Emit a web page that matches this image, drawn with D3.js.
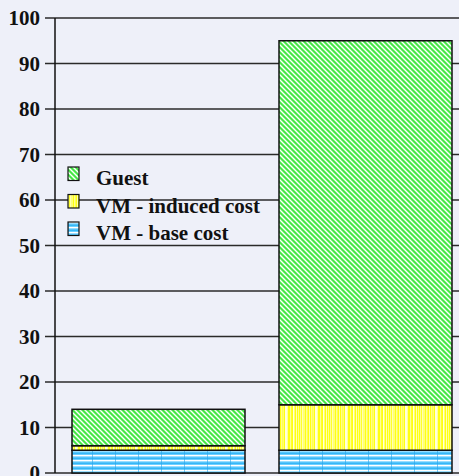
<!DOCTYPE html>
<html>
<head>
<meta charset="utf-8">
<script src="https://cdn.jsdelivr.net/npm/d3@7"></script>
<style>
  html, body { margin: 0; padding: 0; background: #eef0f9; }
  svg { display: block; }
  text { font-family: "Liberation Serif", "Times New Roman", serif; font-weight: bold; fill: #111; }
</style>
</head>
<body>
<svg id="chart" width="459" height="476"></svg>
<script>
// Cost breakdown per configuration (stacked, bottom to top)
const configs = ["A", "B"];
const baseCost = [5, 5];
const inducedCost = [1, 10];
const guestCost = [8, 80];
const seriesNames = ["VM - base cost", "VM - induced cost", "Guest"];
const legendOrder = ["Guest", "VM - induced cost", "VM - base cost"];
const yTicks = [0, 10, 20, 30, 40, 50, 60, 70, 80, 90, 100];

const rows = configs.map((c, i) => ({
  config: c,
  "VM - base cost": baseCost[i],
  "VM - induced cost": inducedCost[i],
  "Guest": guestCost[i]
}));

const svg = d3.select("#chart");
const W = 459, H = 476;
const margin = { left: 55, top: 18, bottom: 3 };

const y = d3.scaleLinear().domain([0, 100]).range([H - margin.bottom, margin.top]);
const x = d3.scaleBand().domain(configs).range([55, 469])
  .paddingInner(34 / 207).paddingOuter(17 / 207);

// ---- fill patterns ----
const defs = svg.append("defs");

// Guest: green diagonal hatch
const pg = defs.append("pattern").attr("id", "pat-guest")
  .attr("patternUnits", "userSpaceOnUse").attr("width", 5).attr("height", 5);
pg.append("rect").attr("width", 5).attr("height", 5).attr("fill", "#46e846");
pg.append("path").attr("d", "M-1,-1 L6,6 M-1,4 L1,6 M4,-1 L6,1")
  .attr("stroke", "#ffffff").attr("stroke-width", 1.4);

// VM induced: yellow vertical stripes
const stripeX = [0, 2, 3.5, 6, 9, 11, 12.5, 15, 17, 20, 23, 26, 28];
const stripeW = [1.2, 0.8, 1, 1.5, 0.8, 0.6, 1.2, 2, 0.7, 1.2, 1.5, 0.8, 1];
const py = defs.append("pattern").attr("id", "pat-induced")
  .attr("patternUnits", "userSpaceOnUse").attr("width", 30).attr("height", 8);
py.append("rect").attr("width", 30).attr("height", 8).attr("fill", "#ffff10");
stripeX.forEach((sx, i) => {
  py.append("rect").attr("x", sx).attr("y", 0).attr("width", stripeW[i]).attr("height", 8)
    .attr("fill", i % 3 === 0 ? "#ffffaa" : "#ffffff").attr("opacity", 0.85);
});

// VM base: blue horizontal stripes
const pb = defs.append("pattern").attr("id", "pat-base")
  .attr("patternUnits", "userSpaceOnUse").attr("width", 23).attr("height", 5);
pb.append("rect").attr("width", 23).attr("height", 5).attr("fill", "#6fd0ff");
pb.append("rect").attr("y", 0).attr("width", 23).attr("height", 1.3).attr("fill", "#ffffff");
pb.append("rect").attr("y", 2.6).attr("width", 23).attr("height", 1.3).attr("fill", "#2fb4f5");
pb.append("rect").attr("x", 0).attr("width", 1).attr("height", 5).attr("fill", "#2aa4e8").attr("opacity", 0.6);

const fills = {
  "VM - base cost": "url(#pat-base)",
  "VM - induced cost": "url(#pat-induced)",
  "Guest": "url(#pat-guest)"
};

// ---- gridlines and ticks ----
const grid = svg.append("g");
grid.selectAll("line").data(yTicks).join("line")
  .attr("x1", 45).attr("x2", W)
  .attr("y1", d => y(d)).attr("y2", d => y(d))
  .attr("stroke", "#2a2a2a").attr("stroke-width", 1.3);

svg.append("g").selectAll("text").data(yTicks).join("text")
  .attr("x", 40).attr("y", d => y(d)).attr("dy", "0.35em")
  .attr("text-anchor", "end").attr("font-size", 21)
  .text(d => d);

// ---- stacked bars ----
const stack = d3.stack().keys(seriesNames)(rows);
const layers = svg.append("g").selectAll("g").data(stack).join("g")
  .attr("fill", d => fills[d.key]);
layers.selectAll("rect").data(d => d).join("rect")
  .attr("x", d => x(d.data.config))
  .attr("width", x.bandwidth())
  .attr("y", d => y(d[1]))
  .attr("height", d => y(d[0]) - y(d[1]))
  .attr("stroke", "#111").attr("stroke-width", 1.5);

// ---- y axis line ----
svg.append("line")
  .attr("x1", 55).attr("x2", 55)
  .attr("y1", y(100)).attr("y2", y(0))
  .attr("stroke", "#111").attr("stroke-width", 1.5);

// ---- legend ----
const legend = svg.append("g").attr("transform", "translate(68,167)");
const li = legend.selectAll("g").data(legendOrder).join("g")
  .attr("transform", (d, i) => `translate(0,${i * 27.5})`);
li.append("rect").attr("width", 11).attr("height", 13.5)
  .attr("fill", d => fills[d]).attr("stroke", "#111").attr("stroke-width", 1.2);
li.append("text").attr("x", 28).attr("y", 18).attr("font-size", 21).text(d => d);
</script>
</body>
</html>
